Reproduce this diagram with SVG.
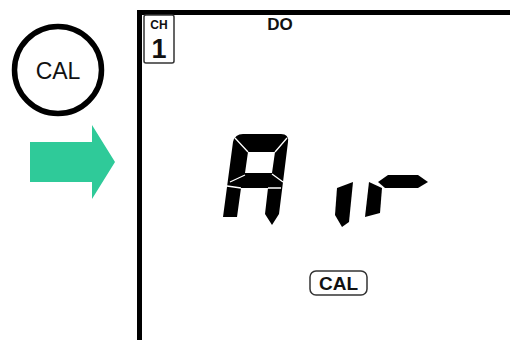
<svg xmlns="http://www.w3.org/2000/svg" width="510" height="340" viewBox="0 0 510 340">
<style>
.lbl{font-family:"Liberation Sans",Arial,sans-serif;fill:#111}
.b{font-weight:bold}
.seg{fill:#000}
.gap{stroke:#fff;stroke-width:1.3;fill:none}
</style>
<rect width="510" height="340" fill="#fff"/>
<g id="cal-button">
  <circle cx="58" cy="70" r="43.5" fill="#fff" stroke="#000" stroke-width="5.5"/>
  <text class="lbl" x="58" y="79" font-size="23" text-anchor="middle">CAL</text>
</g>
<g id="arrow">
  <polygon points="30,142 92,142 92,125 115,162 92,199 92,182 30,182" fill="#2FCA99"/>
</g>
<g id="display">
  <path d="M139.5,340 V12.5 H510" fill="none" stroke="#000" stroke-width="5"/>
  <g id="ch-badge">
    <rect x="144" y="15" width="30" height="48" rx="2" fill="#fff" stroke="#333" stroke-width="1.5"/>
    <text class="lbl b" x="159" y="29" font-size="12" text-anchor="middle">CH</text>
    <text class="lbl b" x="159" y="58" font-size="27" text-anchor="middle">1</text>
  </g>
  <text id="do-label" class="lbl b" x="280" y="30" font-size="17" text-anchor="middle">DO</text>
  <g id="readout">
    <path class="seg" fill-rule="evenodd" d="M243,134 L281,134 Q289,134 288,142 L279,214 L272,225 L265,214 L268,188 L241,188 L237,217 L223,217 L233,142 Q235,134 243,134 Z M248,152 L275,152 L272,173 L245,173 Z"/>
    <path class="gap" d="M235,138 L248,152 M287,138 L275,152 M230,182 L245,175 M283,182 L272,174 M227,186 L241,188 M268,188 L281,188"/>
    <polygon class="seg" points="337,188 353,182 349,222 342,227 335,215"/>
    <polygon class="seg" points="369,182 382,188 380,213 365,217"/>
    <polygon class="seg" points="378,182 388,175 418,175 428,182 418,188 385,188"/>
  </g>
  <g id="cal-indicator">
    <rect x="310" y="271" width="57" height="24" rx="6" fill="#fff" stroke="#333" stroke-width="1.5"/>
    <text class="lbl b" x="338.5" y="290" font-size="19" text-anchor="middle">CAL</text>
  </g>
</g>
</svg>
